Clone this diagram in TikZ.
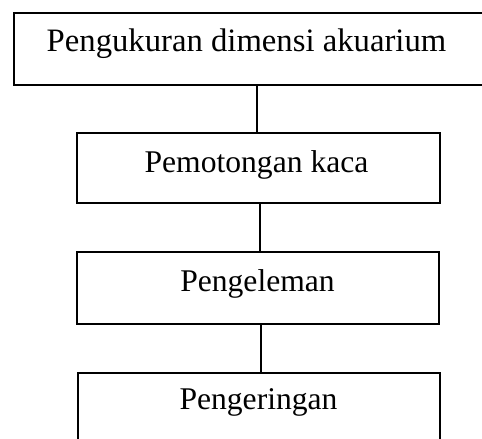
\documentclass[tikz,border=0pt]{standalone}
\usepackage{fontspec}
\setmainfont{Liberation Serif}
\begin{document}
\begin{tikzpicture}[x=1pt,y=-1pt,
  boxnode/.style={draw,line width=2.2pt,rectangle,inner sep=0pt,anchor=north west},
  lbl/.style={anchor=base,inner sep=0pt,font=\fontsize{31.6}{36}\selectfont},
  link/.style={line width=2.2pt}]
\useasboundingbox (0,0) rectangle (482,439);
\node[boxnode,minimum width=482pt,minimum height=72pt] (b1) at (13,12) {};
\node[boxnode,minimum width=363pt,minimum height=70pt] (b2) at (76,132) {};
\node[boxnode,minimum width=362pt,minimum height=72pt] (b3) at (76,251) {};
\node[boxnode,minimum width=362pt,minimum height=80pt] (b4) at (77,372) {};
\node[lbl,font=\fontsize{32.7}{38}\selectfont] (t1) at (246.5,51) {Pengukuran dimensi akuarium};
\node[lbl] (t2) at (256.5,172) {Pemotongan kaca};
\node[lbl] (t3) at (257.5,291) {Pengeleman};
\node[lbl] (t4) at (258.5,409) {Pengeringan};
\draw[link] (b1.south -| t1.base) ++(10.5,0) coordinate (c1) -- (c1 |- b2.north);
\draw[link] (b2.south -| b2.center) ++(1.5,0) coordinate (c2) -- (c2 |- b3.north);
\draw[link] (b3.south -| b3.center) ++(2.5,0) coordinate (c3) -- (c3 |- b4.north);
\end{tikzpicture}
\end{document}
